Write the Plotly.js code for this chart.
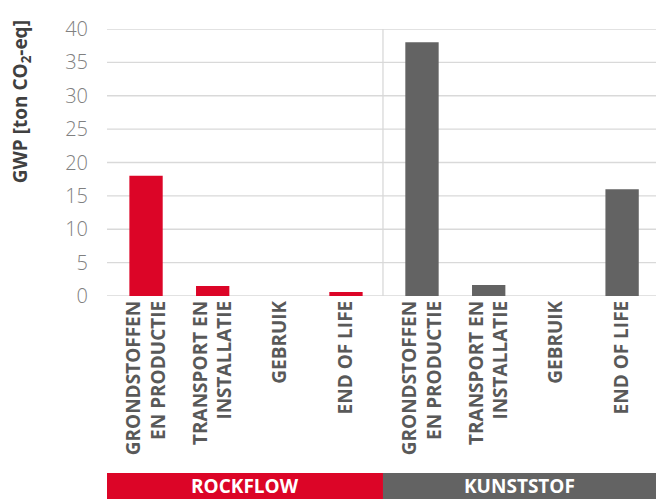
<!DOCTYPE html>
<html>
<head>
<meta charset="utf-8">
<script src="https://cdn.plot.ly/plotly-3.0.1.min.js"></script>
<style>html,body{margin:0;padding:0;background:#fff;}#chart{width:656px;height:499px;}</style>
</head>
<body>
<div id="chart"></div>
<script>
// Data
const categories = ["GRONDSTOFFEN<br>EN PRODUCTIE", "TRANSPORT EN<br>INSTALLATIE", "GEBRUIK", "END OF LIFE"];
const groups = ["ROCKFLOW", "KUNSTSTOF"];
const rockflowValues = [18, 1.5, 0, 0.6];
const kunststofValues = [38, 1.65, 0, 16];
const yTicks = [0, 5, 10, 15, 20, 25, 30, 35, 40];
const yTitle = "GWP [ton CO<sub>2</sub>-eq]";

const RED = "#dc0527";
const GREY = "#636363";
const GRID = "#d9d9d9";
const FONT = "'Open Sans', sans-serif";

const traces = [
  {type: "bar", x: categories, y: rockflowValues, xaxis: "x", yaxis: "y",
   marker: {color: RED}, width: 0.5, hoverinfo: "skip"},
  {type: "bar", x: categories, y: kunststofValues, xaxis: "x2", yaxis: "y2",
   marker: {color: GREY}, width: 0.5, hoverinfo: "skip"}
];

const split = 0.5027;
const shapes = [];
yTicks.forEach(v => shapes.push({type: "line", xref: "paper", yref: "y", x0: 0, x1: 1, y0: v, y1: v,
  line: {color: GRID, width: 1.3}, layer: "below"}));
shapes.push({type: "line", xref: "paper", yref: "paper", x0: split, x1: split, y0: 0, y1: 1,
  line: {color: GRID, width: 1.3}, layer: "below"});
shapes.push({type: "rect", xref: "paper", yref: "paper", x0: 0, x1: split, y0: -0.761, y1: -0.6626,
  line: {width: 0}, fillcolor: RED});
shapes.push({type: "rect", xref: "paper", yref: "paper", x0: split, x1: 1.0, y0: -0.761, y1: -0.6626,
  line: {width: 0}, fillcolor: GREY});

const xtick = {family: FONT, size: 19, color: "#595959", weight: 700};
const layout = {
  width: 656, height: 499,
  margin: {l: 107, r: 0, t: 29.3, b: 203, pad: 0},
  paper_bgcolor: "#fff", plot_bgcolor: "rgba(0,0,0,0)",
  showlegend: false, bargap: 0.5,
  xaxis: {domain: [0.0104, 0.496], anchor: "y", type: "category", range: [-0.5, 3.5],
    tickangle: -90, tickfont: xtick, showgrid: false, zeroline: false, showline: false, ticks: ""},
  xaxis2: {domain: [0.513, 0.999], anchor: "y2", type: "category", range: [-0.5, 3.5],
    tickangle: -90, tickfont: xtick, showgrid: false, zeroline: false, showline: false, ticks: ""},
  yaxis: {anchor: "free", position: 0, range: [0, 40], tickvals: yTicks, showgrid: false, zeroline: false,
    showline: false, ticks: "", ticklabelstandoff: 19,
    tickfont: {family: FONT, size: 20, color: "#808080", weight: 300}},
  yaxis2: {anchor: "x2", matches: "y", range: [0, 40], showgrid: false, zeroline: false,
    showticklabels: false, showline: false, ticks: ""},
  shapes: shapes,
  annotations: [
    {xref: "paper", yref: "paper", x: (21 - 107) / 549, y: (296 - 102.5) / 266.7, text: yTitle,
     textangle: -90, showarrow: false, xanchor: "center", yanchor: "middle",
     font: {family: FONT, size: 19, color: "#404040", weight: 700}},
    {xref: "paper", yref: "paper", x: split / 2, y: -0.712, text: groups[0], showarrow: false,
     xanchor: "center", yanchor: "middle", font: {family: FONT, size: 19, color: "#fff", weight: 700}},
    {xref: "paper", yref: "paper", x: (split + 1) / 2, y: -0.712, text: groups[1], showarrow: false,
     xanchor: "center", yanchor: "middle", font: {family: FONT, size: 19, color: "#fff", weight: 700}}
  ]
};

Plotly.newPlot("chart", traces, layout, {staticPlot: true, displayModeBar: false});
</script>
</body>
</html>
